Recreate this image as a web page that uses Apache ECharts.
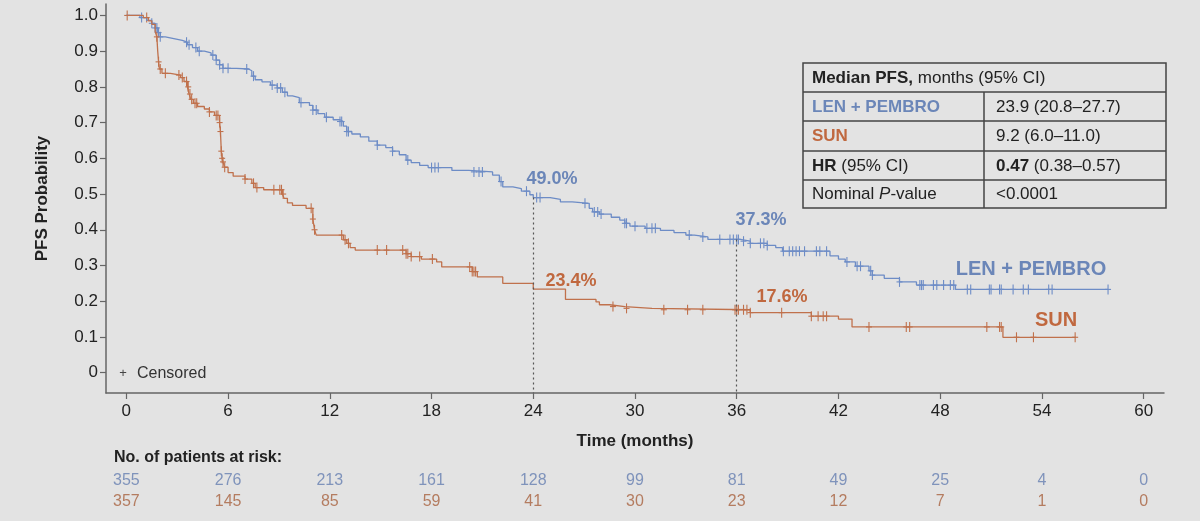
<!DOCTYPE html>
<html>
<head>
<meta charset="UTF-8">
<title>PFS Kaplan-Meier</title>
<script src="https://cdn.jsdelivr.net/npm/echarts@6/dist/echarts.min.js"></script>
<style>
  html, body { margin: 0; padding: 0; background: #e3e3e3; }
  #main { width: 1200px; height: 521px; }
</style>
</head>
<body>
<div id="main"></div>
<script type="text/javascript">
// ---- data ----
var xTicks = [0, 6, 12, 18, 24, 30, 36, 42, 48, 54, 60];
var yTicks = [0, 0.1, 0.2, 0.3, 0.4, 0.5, 0.6, 0.7, 0.8, 0.9, 1.0];

// KM steps: [time, survival after event]
var lenSteps = [
  [0, 1], [0.8, 0.994], [1.2, 0.986], [1.5, 0.978], [1.7, 0.965], [1.85, 0.952], [2.0, 0.94],
  [2.3, 0.935], [2.8, 0.93], [3.3, 0.925], [3.6, 0.918], [3.9, 0.91], [4.2, 0.9], [4.6, 0.895],
  [5.0, 0.889], [5.3, 0.875], [5.5, 0.862], [5.7, 0.852], [6.5, 0.85], [7.2, 0.845], [7.4, 0.83],
  [7.6, 0.82], [8.0, 0.814], [8.5, 0.805], [8.9, 0.797], [9.2, 0.785], [9.5, 0.775], [9.8, 0.77],
  [10.2, 0.756], [10.8, 0.748], [11.0, 0.735], [11.3, 0.725], [11.7, 0.715], [12.2, 0.708],
  [12.6, 0.703], [12.8, 0.69], [13.0, 0.675], [13.3, 0.668], [13.8, 0.66], [14.3, 0.648],
  [14.8, 0.637], [15.3, 0.63], [15.7, 0.62], [16.1, 0.61], [16.5, 0.595], [16.8, 0.588],
  [17.3, 0.58], [17.8, 0.574], [19.2, 0.566], [20.2, 0.562], [21.6, 0.553], [22.0, 0.535],
  [22.2, 0.52], [22.8, 0.515], [23.3, 0.508], [23.8, 0.498], [24.0, 0.49], [25.0, 0.485],
  [25.6, 0.478], [26.3, 0.474], [27.3, 0.46], [27.5, 0.45], [27.9, 0.444], [28.6, 0.435],
  [29.1, 0.427], [29.4, 0.418], [29.7, 0.41], [30.6, 0.404], [31.5, 0.398], [32.3, 0.392],
  [33.0, 0.385], [33.5, 0.38], [34.3, 0.373], [36.2, 0.368], [36.8, 0.362], [37.8, 0.356],
  [38.3, 0.35], [38.7, 0.34], [41.5, 0.327], [42.0, 0.318], [42.4, 0.31], [43.0, 0.298],
  [43.8, 0.285], [44.0, 0.273], [44.7, 0.264], [45.6, 0.254], [46.6, 0.245], [48.9, 0.233],
  [57.9, 0.233]
];
var sunSteps = [
  [0, 1], [1.0, 0.994], [1.3, 0.985], [1.5, 0.975], [1.7, 0.955], [1.8, 0.94], [1.85, 0.9],
  [1.9, 0.87], [1.95, 0.85], [2.1, 0.838], [2.6, 0.833], [3.2, 0.826], [3.4, 0.815], [3.6, 0.8],
  [3.7, 0.78], [3.8, 0.765], [3.95, 0.754], [4.2, 0.745], [4.6, 0.738], [4.9, 0.73], [5.2, 0.72],
  [5.5, 0.7], [5.55, 0.675], [5.6, 0.62], [5.65, 0.6], [5.7, 0.59], [5.8, 0.575], [6.0, 0.56],
  [6.3, 0.55], [7.0, 0.542], [7.4, 0.53], [7.6, 0.518], [8.1, 0.512], [9.2, 0.5], [9.3, 0.488],
  [9.5, 0.475], [9.8, 0.468], [10.6, 0.46], [11.0, 0.43], [11.1, 0.4], [11.2, 0.385],
  [12.8, 0.372], [13.0, 0.362], [13.2, 0.35], [13.5, 0.343], [16.5, 0.333], [16.8, 0.325],
  [17.4, 0.318], [18.3, 0.31], [18.6, 0.296], [20.4, 0.283], [20.7, 0.268], [22.2, 0.25],
  [24.0, 0.234], [25.9, 0.205], [27.7, 0.198], [27.9, 0.19], [28.5, 0.185], [29.4, 0.18],
  [31.0, 0.176], [36.8, 0.168], [40.4, 0.158], [42.0, 0.15], [42.8, 0.128], [51.7, 0.099],
  [56.0, 0.099]
];

// censored times
var lenCensor = [0.9, 1.5, 1.7, 1.8, 1.9, 2.0, 3.55, 3.7, 4.1, 4.3, 5.1, 5.3, 5.5, 5.7, 6.0,
  7.1, 7.5, 8.6, 8.9, 9.1, 9.35, 10.3, 11.0, 11.2, 11.8, 12.6, 12.7, 13.0, 13.1, 14.8, 15.7,
  16.6, 18.0, 18.2, 18.4, 20.5, 20.8, 21.0, 22.1, 23.6, 24.2, 24.4, 27.05, 27.6, 27.8, 28.0,
  29.4, 29.5, 30.0, 30.7, 31.0, 31.2, 33.2, 34.0, 35.0, 35.6, 35.8, 36.0, 36.1, 36.4, 36.8,
  37.4, 37.6, 37.8, 38.75, 39.1, 39.3, 39.5, 39.7, 40.0, 40.7, 40.9, 41.3, 42.5, 43.1, 43.3,
  43.9, 44.0, 45.6, 46.8, 46.9, 47.0, 47.6, 47.8, 48.2, 48.6, 48.8, 49.6, 49.8, 50.9, 51.0,
  51.5, 51.6, 52.3, 52.9, 53.2, 54.4, 54.6, 57.9];
var sunCensor = [0.05, 1.2, 1.8, 1.9, 2.0, 2.3, 3.1, 3.3, 3.55, 3.65, 3.75, 3.85, 4.05, 4.15,
  4.9, 5.3, 5.4, 5.5, 5.55, 5.6, 5.65, 5.7, 5.8, 7.0, 7.5, 7.7, 8.7, 9.05, 9.15, 9.25, 10.9,
  11.0, 11.1, 12.7, 12.9, 13.1, 14.8, 15.35, 16.3, 16.5, 16.6, 16.8, 17.3, 18.05, 20.25, 20.4,
  20.5, 20.6, 28.7, 29.5, 31.7, 33.1, 34.0, 35.9, 36.0, 36.1, 36.4, 36.6, 36.8, 38.65, 40.4,
  40.8, 41.1, 41.3, 43.8, 46.0, 46.2, 50.75, 51.5, 51.6, 52.5, 53.5, 55.96];

var landmarks = [24, 36];
var lenAtLandmark = ['49.0%', '37.3%'];
var sunAtLandmark = ['23.4%', '17.6%'];

var riskLen = [355, 276, 213, 161, 128, 99, 81, 49, 25, 4, 0];
var riskSun = [357, 145, 85, 59, 41, 30, 23, 12, 7, 1, 0];

// ---- style ----
var FONT = 'Liberation Sans, Arial, sans-serif';
var BLUE = '#6d8cc6', ORANGE = '#c0714c';
var BLUE_T = '#6b86b8', ORANGE_T = '#c0683f';
var DARK = '#222222', AXIS = '#666666';
var Y_MIN = -0.057, Y_MAX = 1.032;

function stepValue(steps, t) {
  var v = steps[0][1];
  for (var i = 0; i < steps.length; i++) {
    if (steps[i][0] <= t) v = steps[i][1];
  }
  return v;
}
function censorPoints(steps, times) {
  return times.map(function (t) { return [t, stepValue(steps, t)]; });
}
function plusItem(color) {
  return function (params, api) {
    var p = api.coord([api.value(0), api.value(1)]);
    return {
      type: 'group',
      children: [
        { type: 'line', shape: { x1: p[0], y1: p[1] - 5, x2: p[0], y2: p[1] + 5 }, style: { stroke: color, lineWidth: 1.1 } },
        { type: 'line', shape: { x1: p[0] - 3, y1: p[1], x2: p[0] + 3, y2: p[1] }, style: { stroke: color, lineWidth: 1.1 } }
      ]
    };
  };
}

var myChart = echarts.init(document.getElementById('main'));

var option = {
  backgroundColor: '#e3e3e3',
  animation: false,
  textStyle: { fontFamily: FONT },
  grid: { left: 106, right: 36, top: 4, bottom: 128, containLabel: false, outerBoundsMode: 'none' },
  xAxis: {
    type: 'value', min: -1.2, max: 61.2,
    name: 'Time (months)', nameLocation: 'middle', nameGap: 40,
    nameTextStyle: { fontSize: 17, fontWeight: 'bold', color: DARK, fontFamily: FONT },
    splitLine: { show: false },
    axisLine: { onZero: false, lineStyle: { color: AXIS, width: 1.5 } },
    axisTick: { show: true, length: 6, customValues: xTicks, lineStyle: { color: AXIS, width: 1.2 } },
    axisLabel: { customValues: xTicks, margin: 10, fontSize: 17, color: DARK, fontFamily: FONT,
      showMinLabel: true, showMaxLabel: true }
  },
  yAxis: {
    type: 'value', min: Y_MIN, max: Y_MAX,
    name: 'PFS Probability', nameLocation: 'middle', nameGap: 55,
    nameTextStyle: { fontSize: 17, fontWeight: 'bold', color: DARK, fontFamily: FONT },
    splitLine: { show: false },
    axisLine: { show: true, onZero: false, lineStyle: { color: AXIS, width: 1.5 } },
    axisTick: { show: true, length: 6, customValues: yTicks, lineStyle: { color: AXIS, width: 1.2 } },
    axisLabel: { customValues: yTicks, margin: 8, fontSize: 17, color: DARK, fontFamily: FONT,
      formatter: function (v) { return v === 0 ? '0' : v.toFixed(1); } }
  },
  series: [
    {
      name: 'LEN + PEMBRO', type: 'line', step: 'end', showSymbol: false, silent: true,
      data: lenSteps, lineStyle: { color: BLUE, width: 1.3 },
      markLine: {
        silent: true, symbol: 'none', label: { show: false },
        lineStyle: { color: '#555', type: [2, 3], width: 1.2 },
        data: landmarks.map(function (t) {
          return [{ coord: [t, stepValue(lenSteps, t)] }, { coord: [t, Y_MIN] }];
        })
      }
    },
    {
      name: 'SUN', type: 'line', step: 'end', showSymbol: false, silent: true,
      data: sunSteps, lineStyle: { color: ORANGE, width: 1.3 }
    },
    { type: 'custom', data: censorPoints(lenSteps, lenCensor), renderItem: plusItem(BLUE), silent: true, z: 3 },
    { type: 'custom', data: censorPoints(sunSteps, sunCensor), renderItem: plusItem(ORANGE), silent: true, z: 3 }
  ]
};
myChart.setOption(option);

// ---- text, table, at-risk ----
var g = [];
function txt(x, y, s, opt) {
  var st = { text: s, x: x, y: y, font: (opt.bold ? 'bold ' : '') + opt.size + 'px ' + FONT,
    fill: opt.color || DARK, align: opt.align || 'center', verticalAlign: 'middle' };
  if (opt.rich) st.rich = opt.rich;
  g.push({ type: 'text', style: st, z: 10 });
}

// landmark labels
txt(552, 179, lenAtLandmark[0], { size: 18, bold: true, color: BLUE_T });
txt(761, 220, lenAtLandmark[1], { size: 18, bold: true, color: BLUE_T });
txt(571, 281, sunAtLandmark[0], { size: 18, bold: true, color: ORANGE_T });
txt(782, 297, sunAtLandmark[1], { size: 18, bold: true, color: ORANGE_T });
txt(1031, 269, 'LEN + PEMBRO', { size: 20, bold: true, color: BLUE_T });
txt(1056, 320, 'SUN', { size: 20, bold: true, color: ORANGE_T });

// censored legend
txt(123, 373, '+', { size: 13, color: '#444' });
txt(137, 374, 'Censored', { size: 16, color: '#333', align: 'left' });

// table
var tL = 803, tR = 1166, tC = 984, rows = [63, 92, 121, 151, 180, 208];
g.push({ type: 'rect', shape: { x: tL, y: rows[0], width: tR - tL, height: rows[5] - rows[0] },
  style: { fill: 'none', stroke: '#444', lineWidth: 1.5 }, z: 9 });
for (var r = 1; r < 5; r++) {
  g.push({ type: 'line', shape: { x1: tL, y1: rows[r], x2: tR, y2: rows[r] }, style: { stroke: '#444', lineWidth: 1.5 }, z: 9 });
}
g.push({ type: 'line', shape: { x1: tC, y1: rows[1], x2: tC, y2: rows[5] }, style: { stroke: '#444', lineWidth: 1.5 }, z: 9 });

var rb = { b: { fontWeight: 'bold', fontSize: 17, fontFamily: FONT, fill: DARK },
  n: { fontSize: 17, fontFamily: FONT, fill: DARK },
  i: { fontStyle: 'italic', fontSize: 17, fontFamily: FONT, fill: DARK } };
var cx1 = 812, cx2 = 996;
txt(cx1, 78, '{b|Median PFS,}{n| months (95% CI)}', { size: 17, align: 'left', rich: rb });
txt(cx1, 107, 'LEN + PEMBRO', { size: 17, bold: true, color: BLUE_T, align: 'left' });
txt(cx2, 107, '23.9 (20.8–27.7)', { size: 17, align: 'left' });
txt(cx1, 136, 'SUN', { size: 17, bold: true, color: ORANGE_T, align: 'left' });
txt(cx2, 136, '9.2 (6.0–11.0)', { size: 17, align: 'left' });
txt(cx1, 166, '{b|HR}{n| (95% CI)}', { size: 17, align: 'left', rich: rb });
txt(cx2, 166, '{b|0.47}{n| (0.38–0.57)}', { size: 17, align: 'left', rich: rb });
txt(cx1, 194, '{n|Nominal }{i|P}{n|-value}', { size: 17, align: 'left', rich: rb });
txt(cx2, 194, '<0.0001', { size: 17, align: 'left' });

// at-risk table
txt(114, 458, 'No. of patients at risk:', { size: 16, bold: true, align: 'left' });
xTicks.forEach(function (t, i) {
  var px = myChart.convertToPixel({ xAxisIndex: 0 }, t);
  txt(px, 481, String(riskLen[i]), { size: 16, color: '#7f93bb' });
  txt(px, 502, String(riskSun[i]), { size: 16, color: '#b47c60' });
});

myChart.setOption({ graphic: { elements: g } });
</script>
</body>
</html>
